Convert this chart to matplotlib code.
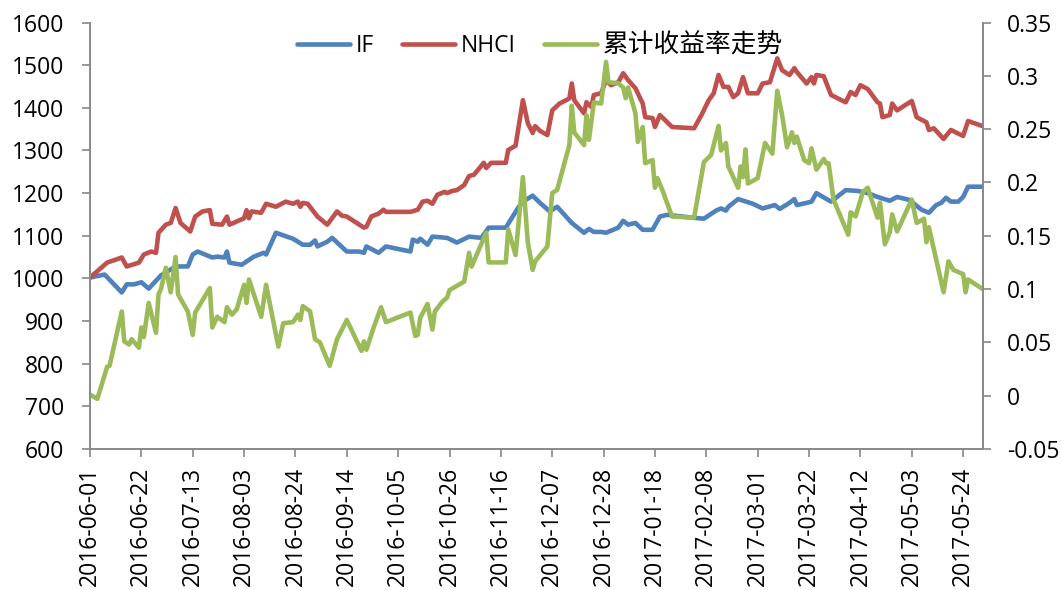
import matplotlib
matplotlib.use("Agg")
import matplotlib.pyplot as plt
import matplotlib.dates as mdates
import pandas as pd

# ---------------- data ----------------
if_dates = ["2016-06-01","2016-06-07","2016-06-14","2016-06-16","2016-06-19","2016-06-22","2016-06-25",
            "2016-06-30","2016-07-04","2016-07-06","2016-07-11","2016-07-13","2016-07-15","2016-07-21",
            "2016-07-23","2016-07-26","2016-07-27","2016-07-28","2016-08-02","2016-08-07","2016-08-11",
            "2016-08-12","2016-08-16","2016-08-23","2016-08-27","2016-08-30","2016-09-01","2016-09-02",
            "2016-09-06","2016-09-08","2016-09-14","2016-09-19","2016-09-21","2016-09-22","2016-09-27",
            "2016-09-30","2016-10-10","2016-10-11","2016-10-13","2016-10-14","2016-10-17","2016-10-19",
            "2016-10-25","2016-10-29","2016-11-03","2016-11-08","2016-11-11","2016-11-18","2016-11-23",
            "2016-11-25","2016-11-29","2016-12-02","2016-12-06","2016-12-09","2016-12-15","2016-12-20",
            "2016-12-22","2016-12-24","2016-12-27","2016-12-29","2017-01-03","2017-01-05","2017-01-07",
            "2017-01-10","2017-01-13","2017-01-17","2017-01-20","2017-01-23","2017-02-03","2017-02-07",
            "2017-02-12","2017-02-14","2017-02-16","2017-02-17","2017-02-21","2017-02-27","2017-03-03",
            "2017-03-08","2017-03-10","2017-03-14","2017-03-16","2017-03-17","2017-03-21","2017-03-23",
            "2017-03-25","2017-03-31","2017-04-06","2017-04-11","2017-04-15","2017-04-19","2017-04-24",
            "2017-04-27","2017-05-02","2017-05-07","2017-05-10","2017-05-13","2017-05-15","2017-05-17",
            "2017-05-19","2017-05-22","2017-05-24","2017-05-26","2017-06-01"]
if_values = [1002,1009,967,986,986,991,976,
             1007,1021,1028,1028,1056,1063,1049,
             1051,1049,1063,1037,1032,1051,1060,
             1056,1107,1093,1079,1079,1089,1075,
             1086,1095,1063,1063,1060,1075,1060,
             1075,1063,1091,1086,1093,1079,1098,
             1095,1084,1098,1095,1119,1119,1165,
             1180,1194,1177,1157,1168,1130,1107,
             1116,1109,1109,1107,1119,1135,1126,
             1130,1114,1114,1145,1149,1142,1140,
             1159,1164,1159,1168,1186,1175,1164,
             1172,1163,1177,1186,1172,1177,1180,
             1200,1180,1207,1205,1200,1191,1182,
             1191,1184,1161,1154,1172,1177,1189,
             1180,1180,1191,1215,1215]

nhci_dates = ["2016-06-01","2016-06-08","2016-06-14","2016-06-16","2016-06-21","2016-06-23","2016-06-26",
              "2016-06-28","2016-06-29","2016-07-02","2016-07-04","2016-07-06","2016-07-08","2016-07-12",
              "2016-07-14","2016-07-17","2016-07-20","2016-07-21","2016-07-25","2016-07-27","2016-07-28",
              "2016-08-03","2016-08-04","2016-08-05","2016-08-06","2016-08-10","2016-08-12","2016-08-16",
              "2016-08-20","2016-08-23","2016-08-25","2016-08-26","2016-08-27","2016-08-29","2016-09-02",
              "2016-09-06","2016-09-10","2016-09-12","2016-09-14","2016-09-21","2016-09-22","2016-09-24",
              "2016-09-27","2016-09-29","2016-09-30","2016-10-10","2016-10-13","2016-10-15","2016-10-17",
              "2016-10-19","2016-10-21","2016-10-24","2016-10-25","2016-10-27","2016-10-29","2016-11-01",
              "2016-11-03","2016-11-05","2016-11-09","2016-11-10","2016-11-12","2016-11-18","2016-11-19",
              "2016-11-22","2016-11-25","2016-11-27","2016-11-29","2016-11-30","2016-12-02","2016-12-05",
              "2016-12-07","2016-12-10","2016-12-14","2016-12-15","2016-12-16","2016-12-20","2016-12-21",
              "2016-12-23","2016-12-24","2016-12-27","2016-12-29","2016-12-31","2017-01-03","2017-01-05",
              "2017-01-07","2017-01-10","2017-01-13","2017-01-14","2017-01-17","2017-01-18","2017-01-20",
              "2017-01-25","2017-02-03","2017-02-06","2017-02-09","2017-02-11","2017-02-13","2017-02-15",
              "2017-02-17","2017-02-19","2017-02-21","2017-02-23","2017-02-25","2017-03-01","2017-03-03",
              "2017-03-06","2017-03-09","2017-03-11","2017-03-14","2017-03-16","2017-03-17","2017-03-21",
              "2017-03-23","2017-03-24","2017-03-25","2017-03-28","2017-03-31","2017-04-06","2017-04-08",
              "2017-04-10","2017-04-12","2017-04-15","2017-04-19","2017-04-20","2017-04-21","2017-04-24",
              "2017-04-25","2017-04-27","2017-05-03","2017-05-05","2017-05-09","2017-05-10","2017-05-12",
              "2017-05-16","2017-05-19","2017-05-24","2017-05-26","2017-06-01"]
nhci_values = [1002,1037,1049,1028,1037,1056,1063,
               1060,1107,1126,1130,1165,1130,1110,
               1145,1157,1160,1128,1126,1145,1126,
               1141,1160,1141,1157,1154,1175,1168,
               1180,1175,1180,1168,1177,1175,1145,
               1126,1157,1147,1145,1119,1121,1145,
               1152,1161,1156,1156,1161,1180,1182,
               1175,1196,1203,1200,1205,1207,1219,
               1240,1243,1271,1259,1271,1271,1301,
               1311,1418,1364,1341,1357,1346,1336,
               1394,1410,1422,1457,1418,1387,1413,
               1402,1430,1434,1465,1453,1460,1481,
               1465,1446,1410,1378,1376,1355,1383,
               1355,1352,1383,1418,1434,1477,1449,
               1449,1425,1434,1472,1434,1434,1457,
               1460,1516,1488,1477,1493,1484,1457,
               1472,1457,1477,1474,1430,1413,1437,
               1430,1453,1444,1413,1410,1378,1383,
               1410,1394,1416,1378,1366,1348,1352,
               1327,1348,1334,1369,1357]

ret_dates = ["2016-06-01","2016-06-04","2016-06-08","2016-06-09","2016-06-14","2016-06-15","2016-06-17",
             "2016-06-18","2016-06-21","2016-06-22","2016-06-23","2016-06-25","2016-06-28","2016-06-29",
             "2016-06-30","2016-07-02","2016-07-04","2016-07-06","2016-07-07","2016-07-11","2016-07-13",
             "2016-07-14","2016-07-20","2016-07-21","2016-07-23","2016-07-26","2016-07-27","2016-07-29",
             "2016-07-31","2016-08-03","2016-08-04","2016-08-05","2016-08-10","2016-08-12","2016-08-17",
             "2016-08-19","2016-08-23","2016-08-25","2016-08-26","2016-08-27","2016-08-30","2016-09-01",
             "2016-09-03","2016-09-07","2016-09-10","2016-09-14","2016-09-20","2016-09-21","2016-09-22",
             "2016-09-25","2016-09-28","2016-09-30","2016-10-10","2016-10-12","2016-10-13","2016-10-14",
             "2016-10-17","2016-10-19","2016-10-20","2016-10-23","2016-10-25","2016-10-26","2016-11-01",
             "2016-11-03","2016-11-04","2016-11-10","2016-11-11","2016-11-18","2016-11-19","2016-11-22",
             "2016-11-25","2016-11-27","2016-11-29","2016-11-30","2016-12-05","2016-12-07","2016-12-09",
             "2016-12-14","2016-12-15","2016-12-16","2016-12-20","2016-12-21","2016-12-22","2016-12-24",
             "2016-12-27","2016-12-29","2016-12-30","2017-01-03","2017-01-05","2017-01-06","2017-01-07",
             "2017-01-10","2017-01-11","2017-01-13","2017-01-14","2017-01-17","2017-01-18","2017-01-19",
             "2017-01-21","2017-01-25","2017-02-03","2017-02-07","2017-02-10","2017-02-13","2017-02-14",
             "2017-02-16","2017-02-17","2017-02-21","2017-02-22","2017-02-23","2017-02-24","2017-02-25",
             "2017-03-01","2017-03-04","2017-03-07","2017-03-09","2017-03-11","2017-03-13","2017-03-15",
             "2017-03-16","2017-03-17","2017-03-20","2017-03-22","2017-03-23","2017-03-25","2017-03-28",
             "2017-03-29","2017-03-30","2017-04-01","2017-04-07","2017-04-08","2017-04-10","2017-04-13",
             "2017-04-15","2017-04-17","2017-04-19","2017-04-20","2017-04-22","2017-04-24","2017-04-25",
             "2017-04-27","2017-05-03","2017-05-05","2017-05-08","2017-05-09","2017-05-10","2017-05-16",
             "2017-05-18","2017-05-20","2017-05-24","2017-05-25","2017-05-26","2017-06-01"]
ret_values = [0.001,-0.003,0.027,0.028,0.079,0.051,0.048,
              0.053,0.045,0.064,0.055,0.087,0.059,0.095,
              0.100,0.120,0.097,0.130,0.095,0.079,0.057,
              0.078,0.101,0.064,0.074,0.069,0.083,0.076,
              0.081,0.104,0.087,0.109,0.074,0.104,0.046,
              0.068,0.069,0.076,0.071,0.084,0.079,0.053,
              0.050,0.028,0.053,0.071,0.042,0.051,0.043,
              0.064,0.083,0.069,0.078,0.056,0.057,0.073,
              0.086,0.062,0.079,0.088,0.092,0.099,0.107,
              0.134,0.121,0.153,0.125,0.125,0.156,0.132,
              0.205,0.144,0.118,0.126,0.140,0.190,0.193,
              0.235,0.272,0.247,0.235,0.263,0.240,0.275,
              0.274,0.313,0.294,0.293,0.289,0.279,0.289,
              0.265,0.238,0.252,0.218,0.221,0.195,0.204,
              0.193,0.168,0.167,0.219,0.226,0.253,0.230,
              0.237,0.215,0.195,0.215,0.205,0.231,0.199,
              0.204,0.237,0.227,0.286,0.263,0.233,0.247,
              0.237,0.243,0.221,0.218,0.232,0.212,0.222,
              0.218,0.218,0.184,0.151,0.172,0.168,0.191,
              0.195,0.181,0.167,0.181,0.142,0.153,0.170,
              0.154,0.184,0.162,0.166,0.144,0.158,0.097,
              0.126,0.118,0.114,0.097,0.109,0.100]

series_labels = ["IF", "NHCI", "累计收益率走势"]
left_ticks = [600, 700, 800, 900, 1000, 1100, 1200, 1300, 1400, 1500, 1600]
right_ticks = [-0.05, 0, 0.05, 0.1, 0.15, 0.2, 0.25, 0.3, 0.35]
right_tick_labels = ["-0.05", "0", "0.05", "0.1", "0.15", "0.2", "0.25", "0.3", "0.35"]
x_start, x_end = "2016-06-01", "2017-06-01"

# ---------------- style ----------------
BLUE, RED, GREEN = "#4F81BD", "#C0504D", "#9BBB59"
AXIS_GRAY = "#888888"
FONT = ["Open Sans", "Noto Sans CJK SC", "DejaVu Sans"]
plt.rcParams["font.family"] = FONT
FS = 16.5
LW = 3.3

fig = plt.figure(figsize=(10.62, 5.90), dpi=100)
ax = fig.add_axes([90 / 1062, 1 - 449 / 590, (982.7 - 90) / 1062, (449 - 22.5) / 590])
ax2 = ax.twinx()

d_if = pd.to_datetime(if_dates)
d_nh = pd.to_datetime(nhci_dates)
d_rt = pd.to_datetime(ret_dates)

l1, = ax.plot(d_if, if_values, color=BLUE, lw=LW, solid_joinstyle="round", solid_capstyle="round")
l2, = ax.plot(d_nh, nhci_values, color=RED, lw=LW, solid_joinstyle="round", solid_capstyle="round")
l3, = ax2.plot(d_rt, ret_values, color=GREEN, lw=LW, solid_joinstyle="round", solid_capstyle="round")

ax.set_ylim(600, 1600)
ax2.set_ylim(-0.05, 0.35)
ax.set_xlim(pd.Timestamp(x_start), pd.Timestamp(x_end))

ax.set_yticks(left_ticks)
ax.set_yticklabels([str(t) for t in left_ticks])
ax2.set_yticks(right_ticks)
ax2.set_yticklabels(right_tick_labels)

xticks = pd.date_range(x_start, "2017-05-24", freq="21D")
ax.set_xticks(xticks)
ax.xaxis.set_major_formatter(mdates.DateFormatter("%Y-%m-%d"))

for a in (ax, ax2):
    for s in a.spines.values():
        s.set_color(AXIS_GRAY)
        s.set_linewidth(1.2)
    a.spines["top"].set_visible(False)
    a.patch.set_visible(False)

ax.tick_params(axis="y", direction="out", length=5.5, width=1.2, color=AXIS_GRAY,
               labelsize=FS, pad=13, labelcolor="black")
ax.tick_params(axis="x", direction="out", length=5.5, width=1.2, color=AXIS_GRAY,
               labelsize=FS, pad=7.5, labelcolor="black", labelrotation=90)
ax2.tick_params(axis="y", direction="out", length=5.5, width=1.2, color=AXIS_GRAY,
                labelsize=FS, pad=12, labelcolor="black")

leg = ax2.legend([l1, l2, l3], series_labels, loc="center", bbox_to_anchor=(0.504, 0.945),
                 ncol=3, frameon=False, fontsize=FS, handlelength=2.3, handletextpad=0.25,
                 columnspacing=1.25, borderpad=0)
texts = leg.get_texts()
texts[2].set_fontsize(18.5)
texts[2].set_fontweight("light")

fig.savefig("out.png", dpi=100)
